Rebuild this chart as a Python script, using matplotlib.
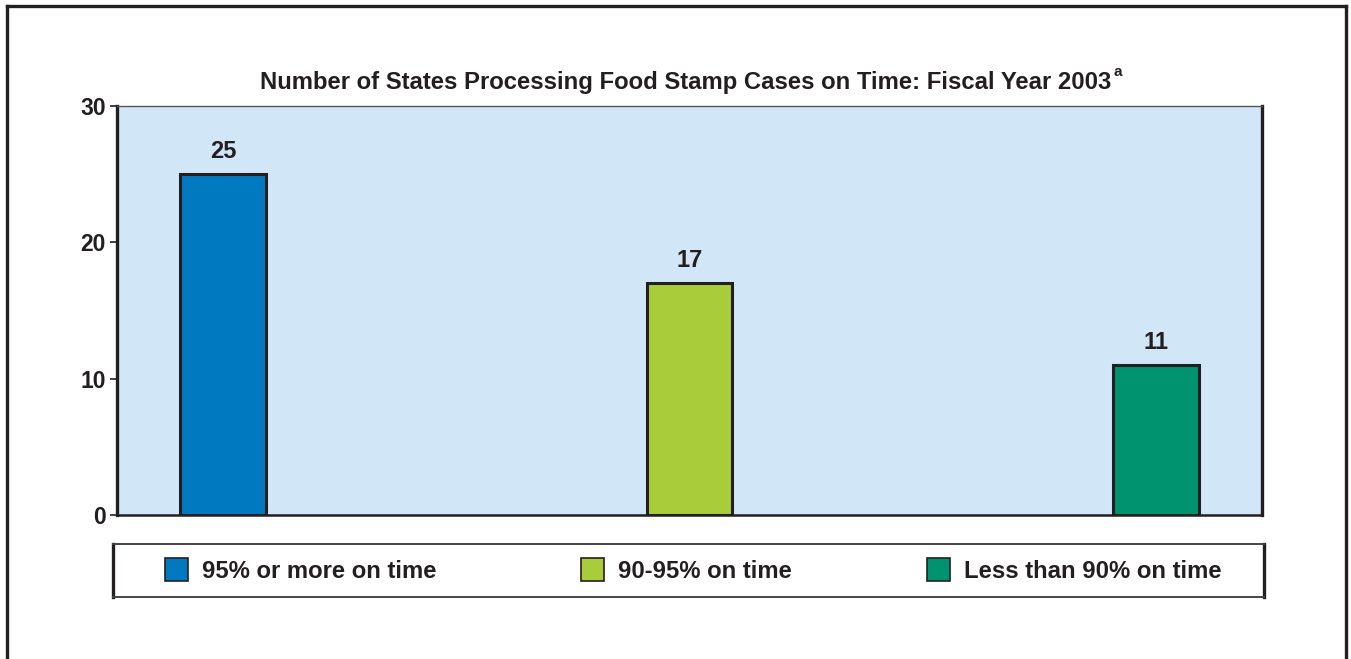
import matplotlib
matplotlib.use("Agg")
import matplotlib.pyplot as plt
from matplotlib.patches import Rectangle
from matplotlib.lines import Line2D

categories = ["95% or more on time", "90-95% on time", "Less than 90% on time"]
values = [25, 17, 11]
colors = ["#0079C1", "#A8CC3A", "#00936F"]
yticks = [0, 10, 20, 30]
title = "Number of States Processing Food Stamp Cases on Time: Fiscal Year 2003"
title_note = "a"

plt.rcParams['font.family'] = ['Liberation Sans', 'DejaVu Sans']
DARK = "#231F20"
W, H = 1351, 659
fig = plt.figure(figsize=(W / 100, H / 100), dpi=100)
fig.patch.set_facecolor("white")

def fx(x):
    return x / W

def fy(y):
    return 1 - y / H

# outer frame
for xs, ys in [([7, 7], [660, 6]), ([7, 1346], [6, 6]), ([1346, 1346], [6, 660])]:
    fig.add_artist(Line2D([fx(x) for x in xs], [fy(y) for y in ys], color=DARK, lw=2.4,
                          solid_capstyle='projecting', transform=fig.transFigure))

# main axes
ax = fig.add_axes([fx(117), fy(515), (1262 - 117) / W, (515 - 106) / H])
ax.set_facecolor("#D1E7F7")
x = list(range(len(values)))
ax.bar(x, values, width=0.184, color=colors, edgecolor=DARK, linewidth=2.2, zorder=3)
for xi, v in zip(x, values):
    ax.text(xi, v + 1.65, str(v), ha='center', va='center', fontsize=17, fontweight='bold', color=DARK)
ax.set_xlim(-0.227, 2.227)
ax.set_ylim(0, 30)
ax.set_yticks(yticks)
ax.set_yticklabels([str(t) for t in yticks], fontsize=16.5, fontweight='bold', color=DARK)
ax.set_xticks([])
ax.tick_params(axis='y', length=5, width=1.2, color=DARK, pad=3)
for side in ['left', 'right']:
    ax.spines[side].set_linewidth(2.4)
    ax.spines[side].set_color(DARK)
ax.spines['bottom'].set_linewidth(1.8)
ax.spines['bottom'].set_color(DARK)
ax.spines['top'].set_linewidth(1.0)
ax.spines['top'].set_color("#555555")

# title
t = fig.text(fx(686), fy(89.5), title, ha='center', va='baseline', fontsize=17.2, fontweight='bold', color=DARK)
fig.canvas.draw()
bb = t.get_window_extent()
fig.text((bb.x1 + 2) / W, fy(76), title_note, ha='left', va='baseline', fontsize=11, fontweight='bold', color=DARK)

# legend box
lax = fig.add_axes([fx(113), fy(597), (1264 - 113) / W, (597 - 544) / H])
lax.set_xlim(113, 1264)
lax.set_ylim(597, 544)
lax.set_xticks([])
lax.set_yticks([])
lax.set_facecolor("white")
for side in ['left', 'right']:
    lax.spines[side].set_linewidth(2.4)
    lax.spines[side].set_color(DARK)
for side in ['top', 'bottom']:
    lax.spines[side].set_linewidth(1.4)
    lax.spines[side].set_color("#444444")
sq_x = [165, 581, 927]
for sx, c, lab in zip(sq_x, colors, categories):
    lax.add_patch(Rectangle((sx, 558), 23, 23, facecolor=c, edgecolor=DARK, linewidth=1.2))
    lax.text(sx + 37, 577.5, lab, ha='left', va='baseline', fontsize=17.2, fontweight='bold', color=DARK)

fig.savefig("out.png", dpi=100, facecolor="white")
